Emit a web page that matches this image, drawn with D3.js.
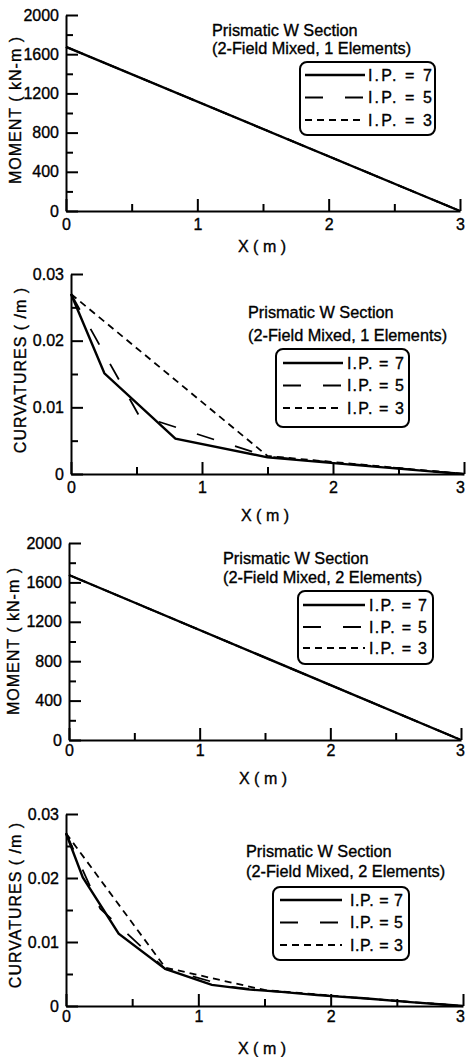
<!DOCTYPE html>
<html>
<head>
<meta charset="utf-8">
<script src="https://cdn.jsdelivr.net/npm/d3@7"></script>
<style>
  html, body { margin: 0; padding: 0; background: #fff; }
  svg text { font-family: "Liberation Sans", Arial, sans-serif; fill: #000; stroke: #000; stroke-width: 0.35px; }
</style>
</head>
<body>
<div id="chart"></div>
<script>
// ---- data ----
var xTicks = [0, 1, 2, 3];
var xMinorTicks = [0.5, 1.5, 2.5];
var momentTicks = [0, 400, 800, 1200, 1600, 2000];
var momentMinorTicks = [200, 600, 1000, 1400, 1800];
var curvTicks = [0, 0.01, 0.02, 0.03];
var curvMinorTicks = [0.005, 0.015, 0.025];
var legendLabels = ['I.P. = 7', 'I.P. = 5', 'I.P. = 3'];

// moment, 1 element
var m1X = [0, 3];
var m1IP7 = [1675, 0];
var m1IP5 = [1675, 0];
var m1IP3 = [1675, 0];

// curvature, 1 element
var c1X7 = [0, 0.255, 0.797, 1.5, 2.203, 2.745, 3];
var c1IP7 = [0.027, 0.0151, 0.0053, 0.0025, 0.0013, 0.0004, 0];
var c1X5 = [0, 0.518, 1.5, 2.482, 3];
var c1IP5 = [0.027, 0.0088, 0.0026, 0.0009, 0];
var c1X3 = [0, 1.5, 3];
var c1IP3 = [0.027, 0.0027, 0];

// moment, 2 elements
var m2X = [0, 3];
var m2IP7 = [1675, 0];
var m2IP5 = [1675, 0];
var m2IP3 = [1675, 0];

// curvature, 2 elements
var c2X7 = [0, 0.127, 0.398, 0.75, 1.102, 1.373, 1.5, 1.627, 1.898, 2.25, 2.602, 2.873, 3];
var c2IP7 = [0.027, 0.0201, 0.0113, 0.0058, 0.0033, 0.0026, 0.0024, 0.0022, 0.0017, 0.0012, 0.0006, 0.0002, 0];
var c2X5 = [0, 0.259, 0.75, 1.241, 1.5, 1.759, 2.25, 2.741, 3];
var c2IP5 = [0.027, 0.0152, 0.0058, 0.0030, 0.0024, 0.0020, 0.0012, 0.0004, 0];
var c2X3 = [0, 0.75, 1.5, 2.25, 3];
var c2IP3 = [0.027, 0.0060, 0.0025, 0.0012, 0];

var zip = function (xs, ys) {
  return xs.map(function (x, i) { return [x, ys[i]]; });
};

// dash styles for the three series
var dashes = [null, '18,22', '7,5'];
var widths = [2.4, 1.8, 1.8];

var curvFmt = function (d) { return d === 0 ? '0' : d3.format('.2f')(d); };

// ---- panel layout ----
var panels = [
  {
    left: 66, right: 460, top: 15, bottom: 211,
    yDomain: [0, 2000], yTicks: momentTicks, yMinor: momentMinorTicks, yFmt: d3.format('d'),
    yLabel: 'MOMENT ( kN-m )', yLabelX: 15, yLabelY: 110, xPad: 8, xLabelX: 262, xLabelY: 252,
    series: [zip(m1X, m1IP7), zip(m1X, m1IP5), zip(m1X, m1IP3)],
    title: ['Prismatic W Section', '(2-Field Mixed, 1 Elements)'], titleX: 212, titleY: [35.5, 53.5],
    legend: { x: 300, y: 62, w: 135, h: 73, rows: [75, 97.5, 120], lx0: 305, lx1: 365, tx: 368, tw: 64 }
  },
  {
    left: 71, right: 464, top: 274, bottom: 474,
    yDomain: [0, 0.03], yTicks: curvTicks, yMinor: curvMinorTicks, yFmt: curvFmt,
    yLabel: 'CURVATURES ( /m )', yLabelX: 20, yLabelY: 370, xPad: 8, xLabelX: 265, xLabelY: 521,
    series: [zip(c1X7, c1IP7), zip(c1X5, c1IP5), zip(c1X3, c1IP3)],
    title: ['Prismatic W Section', '(2-Field Mixed, 1 Elements)'], titleX: 248, titleY: [318, 340.5],
    legend: { x: 276, y: 349, w: 133, h: 78, rows: [363, 385.5, 408], lx0: 283, lx1: 343, tx: 347, tw: 57 }
  },
  {
    left: 69, right: 461, top: 543, bottom: 740,
    yDomain: [0, 2000], yTicks: momentTicks, yMinor: momentMinorTicks, yFmt: d3.format('d'),
    yLabel: 'MOMENT ( kN-m )', yLabelX: 13, yLabelY: 641, xPad: 5, xLabelX: 263, xLabelY: 784,
    series: [zip(m2X, m2IP7), zip(m2X, m2IP5), zip(m2X, m2IP3)],
    title: ['Prismatic W Section', '(2-Field Mixed, 2 Elements)'], titleX: 223, titleY: [564, 582.5],
    legend: { x: 298, y: 591, w: 135, h: 73, rows: [605, 627, 648], lx0: 303, lx1: 365, tx: 369, tw: 58 }
  },
  {
    left: 66, right: 463, top: 814, bottom: 1006,
    yDomain: [0, 0.03], yTicks: curvTicks, yMinor: curvMinorTicks, yFmt: curvFmt,
    yLabel: 'CURVATURES ( /m )', yLabelX: 15, yLabelY: 905, xPad: 5, xLabelX: 262, xLabelY: 1054,
    series: [zip(c2X7, c2IP7), zip(c2X5, c2IP5), zip(c2X3, c2IP3)],
    title: ['Prismatic W Section', '(2-Field Mixed, 2 Elements)'], titleX: 246, titleY: [857, 877],
    legend: { x: 273, y: 887, w: 136, h: 73, rows: [900, 922.5, 945], lx0: 280, lx1: 342, tx: 350, tw: 53 }
  }
];

var width = 466;
var height = 1057;

var svg = d3.select('#chart').append('svg')
    .attr('width', width)
    .attr('height', height);

var drawPanel = function (p) {
  var g = svg.append('g');
  var xScale = d3.scaleLinear().domain([0, 3]).range([p.left, p.right]);
  var yScale = d3.scaleLinear().domain(p.yDomain).range([p.bottom, p.top]);

  // minor ticks first, then the major axes on top
  g.append('g')
      .attr('transform', 'translate(0,' + p.bottom + ')')
      .call(d3.axisBottom(xScale).tickValues(xMinorTicks).tickSize(-7).tickFormat(''))
      .call(function (a) { a.select('.domain').remove(); });
  g.append('g')
      .attr('transform', 'translate(' + p.left + ',0)')
      .call(d3.axisLeft(yScale).tickValues(p.yMinor).tickSize(-7).tickFormat(''))
      .call(function (a) { a.select('.domain').remove(); });

  var xAxisEl = g.append('g')
      .attr('class', 'x-axis')
      .attr('transform', 'translate(0,' + p.bottom + ')')
      .call(d3.axisBottom(xScale).tickValues(xTicks).tickSize(-12).tickSizeOuter(0)
        .tickPadding(p.xPad).tickFormat(d3.format('d')));

  // keep the last tick label ("3") inside the page edge
  xAxisEl.selectAll('.tick text')
      .attr('dx', function (d) {
        var over = xScale(d) + 5 - (width - 1);
        return over > 0 ? -over : 0;
      });

  g.append('g')
      .attr('class', 'y-axis')
      .attr('transform', 'translate(' + p.left + ',0)')
      .call(d3.axisLeft(yScale).tickValues(p.yTicks).tickSize(-12).tickSizeOuter(0)
        .tickPadding(7).tickFormat(p.yFmt));

  g.selectAll('.tick line, .domain').attr('stroke', '#000').attr('stroke-width', 2);
  g.selectAll('.tick text').attr('font-size', 16).attr('font-family', null);

  // data lines
  var line = d3.line()
      .x(function (d) { return xScale(d[0]); })
      .y(function (d) { return yScale(d[1]); });

  p.series.slice().reverse().forEach(function (s, k) {
    var i = p.series.length - 1 - k;
    g.append('path')
        .datum(s)
        .attr('d', line)
        .attr('fill', 'none')
        .attr('stroke', '#000')
        .attr('stroke-width', widths[i])
        .attr('stroke-dasharray', dashes[i]);
  });

  // axis labels
  g.append('text')
      .attr('x', p.xLabelX)
      .attr('y', p.xLabelY)
      .attr('text-anchor', 'middle')
      .attr('font-size', 16)
      .text('X ( m )');

  g.append('text')
      .attr('transform', 'translate(' + p.yLabelX + ',' + p.yLabelY + ') rotate(-90)')
      .attr('dy', '0.35em')
      .attr('text-anchor', 'middle')
      .attr('font-size', 16)
      .attr('letter-spacing', 1)
      .text(p.yLabel);

  // title
  g.selectAll('text.title').data(p.title).enter().append('text')
      .attr('class', 'title')
      .attr('x', p.titleX)
      .attr('y', function (d, i) { return p.titleY[i]; })
      .attr('font-size', 16.3)
      .text(function (d) { return d; });

  // legend
  var L = p.legend;
  g.append('rect')
      .attr('x', L.x).attr('y', L.y)
      .attr('width', L.w).attr('height', L.h)
      .attr('rx', 7).attr('ry', 7)
      .attr('fill', '#fff')
      .attr('stroke', '#000')
      .attr('stroke-width', 2);

  legendLabels.forEach(function (lab, i) {
    g.append('line')
        .attr('x1', L.lx0).attr('x2', L.lx1)
        .attr('y1', L.rows[i]).attr('y2', L.rows[i])
        .attr('stroke', '#000')
        .attr('stroke-width', widths[i])
        .attr('stroke-dasharray', dashes[i]);
    g.append('text')
        .attr('x', L.tx)
        .attr('y', L.rows[i])
        .attr('dy', '0.36em')
        .attr('font-size', 16)
        .attr('textLength', L.tw)
        .attr('lengthAdjust', 'spacing')
        .text(lab);
  });
};

panels.forEach(drawPanel);
</script>
</body>
</html>
